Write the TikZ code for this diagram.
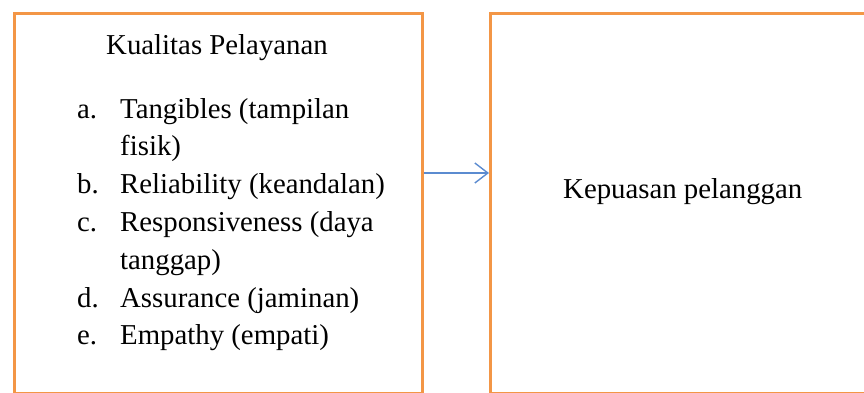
\documentclass[tikz,border=0pt]{standalone}
\usepackage{fontspec}
\setmainfont{Liberation Serif}
\usetikzlibrary{arrows.meta}
\definecolor{boxorange}{HTML}{F39646}
\definecolor{arrowblue}{HTML}{5B8BD0}
\begin{document}
\begin{tikzpicture}[x=1pt,y=-1pt,
  frame/.style={draw=boxorange,line width=3pt},
  txt/.style={inner sep=0pt,anchor=base west,font=\fontsize{28.8}{37.8}\selectfont},
  conn/.style={draw=arrowblue,line width=1.4pt,-{Straight Barb[length=13pt,width=20pt,line width=1.4pt]}}]
\useasboundingbox (0,0) rectangle (864,392);
\node[frame,minimum width=408pt,minimum height=380pt,anchor=north west,inner sep=0pt] (left) at (13,12) {};
\node[frame,minimum width=385pt,minimum height=380pt,anchor=north west,inner sep=0pt] (right) at (489,12) {};
\node[txt,anchor=base] (title) at (217,54) {Kualitas Pelayanan};
\node[txt] (la) at (77,118) {a.};
\node[txt] (ta) at (120,118) {Tangibles (tampilan};
\node[txt] (ta2) at (120,155.8) {fisik)};
\node[txt] (lb) at (77,193.6) {b.};
\node[txt] (tb) at (120,193.6) {Reliability (keandalan)};
\node[txt] (lc) at (77,231.4) {c.};
\node[txt] (tc) at (120,231.4) {Responsiveness (daya};
\node[txt] (tc2) at (120,269.2) {tanggap)};
\node[txt] (ld) at (77,307) {d.};
\node[txt] (td) at (120,307) {Assurance (jaminan)};
\node[txt] (le) at (77,344.8) {e.};
\node[txt] (te) at (120,344.8) {Empathy (empati)};
\node[txt] (kp) at (563,198) {Kepuasan pelanggan};
\draw[conn] (left.east |- 0,173) -- (right.west |- 0,173);
\end{tikzpicture}
\end{document}
